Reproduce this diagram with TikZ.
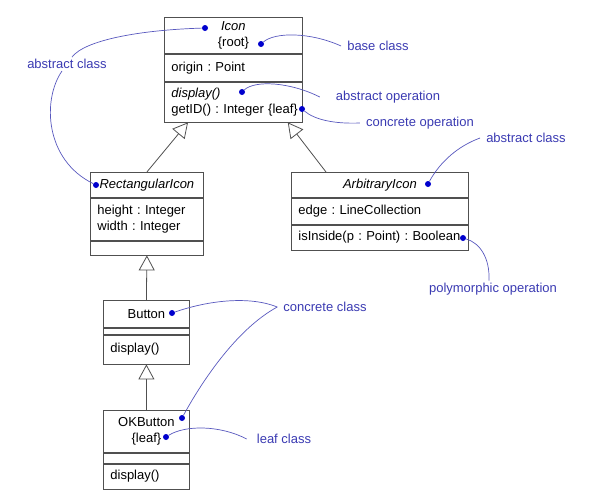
\documentclass[tikz,border=0pt]{standalone}
\usepackage{fontspec}
\setmainfont{Liberation Sans}
\usetikzlibrary{arrows.meta}
\definecolor{noteBlue}{RGB}{58,58,178}
\definecolor{dotBlue}{RGB}{0,0,205}
\definecolor{boxGray}{RGB}{80,80,80}
\newcommand{\NoteDot}[2]{\node[noteDot] (#1) at (#2) {};}

\begin{document}
\begin{tikzpicture}[x=1pt,y=-1pt,
  comp/.style={draw=boxGray,line width=0.8pt,anchor=north west,inner xsep=7pt,inner ysep=0pt,align=left,font=\fontsize{13}{15.5}\selectfont\frenchspacing},
  noteText/.style={text=noteBlue,font=\fontsize{13}{15}\selectfont,inner sep=2pt},
  noteLine/.style={draw=noteBlue!85,line width=0.7pt},
  noteDot/.style={circle,fill=dotBlue,inner sep=0pt,minimum size=6pt},
  inherit/.style={draw=boxGray,line width=0.8pt,-{Triangle[open,length=15pt,width=16pt]}}]
\useasboundingbox (0,0) rectangle (598,490);

% classes
\node[comp,text width=124pt,minimum height=36pt,align=center] (iconName) at (164,17) {\textit{Icon}\\\{root\}};
\node[comp,text width=124pt,minimum height=27pt] (iconAttr) at (iconName.south west) {origin : Point};
\node[comp,text width=124pt,minimum height=40pt] (iconOps) at (iconAttr.south west) {\textit{display()}\\\mbox{getID() : Integer \{leaf\}}};

\node[comp,text width=99pt,minimum height=25pt,align=center] (rectName) at (90,172) {\textit{RectangularIcon}};
\node[comp,text width=99pt,minimum height=42pt] (rectAttr) at (rectName.south west) {height : Integer\\width : Integer};
\node[comp,minimum width=113pt,minimum height=14pt] (rectOps) at (rectAttr.south west) {};

\node[comp,text width=163pt,minimum height=25pt,align=center] (arbName) at (291,172) {\textit{ArbitraryIcon}};
\node[comp,text width=163pt,minimum height=26pt] (arbAttr) at (arbName.south west) {edge : LineCollection};
\node[comp,text width=163pt,minimum height=25pt] (arbOps) at (arbAttr.south west) {\mbox{isInside(p : Point) : Boolean}};

\node[comp,text width=72pt,minimum height=27pt,align=center] (btnName) at (103,300) {Button};
\node[comp,minimum width=86pt,minimum height=6pt] (btnAttr) at (btnName.south west) {};
\node[comp,text width=72pt,minimum height=29pt] (btnOps) at (btnAttr.south west) {display()};

\node[comp,text width=72pt,minimum height=42pt,align=center] (okName) at (103,410) {OKButton\\\{leaf\}};
\node[comp,minimum width=86pt,minimum height=10pt] (okAttr) at (okName.south west) {};
\node[comp,text width=72pt,minimum height=25pt] (okOps) at (okAttr.south west) {display()};

% generalization
\draw[inherit] (rectName.north) -- ([xshift=24pt]iconOps.south west);
\draw[inherit] ([xshift=35pt]arbName.north west) -- ([xshift=-15pt]iconOps.south east);
\draw[inherit] (btnName.north) -- (rectOps.south);
\draw[inherit] (okName.north) -- (btnOps.south);

% notes
\NoteDot{dotIcon}{205,28}
\NoteDot{dotRoot}{261,44}
\NoteDot{dotDisplay}{242,92}
\NoteDot{dotLeafOp}{302,109}
\NoteDot{dotRect}{96,185}
\NoteDot{dotArb}{428,184}
\NoteDot{dotBool}{463,238}
\NoteDot{dotBtn}{172,313}
\NoteDot{dotOK}{182,418}
\NoteDot{dotLeafCls}{166,437}

\node[noteText] (absLeft) at (67,64) {abstract class};
\node[noteText] (baseCls) at (378,46) {base class};
\node[noteText] (absOp) at (388,97) {abstract operation};
\node[noteText] (concOp) at (420,123) {concrete operation};
\node[noteText] (absRight) at (526,138) {abstract class};
\node[noteText] (polyOp) at (493,289) {polymorphic operation};
\node[noteText] (concCls) at (325,307) {concrete class};
\node[noteText] (leafCls) at (284,439) {leaf class};

\draw[noteLine] (dotIcon) .. controls (140,30) and (85,40) .. ([xshift=5pt]absLeft.north);
\draw[noteLine] ([xshift=-5pt]absLeft.south) .. controls (42,100) and (45,160) .. (dotRect);
\draw[noteLine] (dotRoot) .. controls (275,32) and (310,32) .. ([xshift=-4pt]baseCls.west);
\draw[noteLine] (dotDisplay) .. controls (255,80) and (290,82) .. ([xshift=-14pt]absOp.west);
\draw[noteLine] (dotLeafOp) .. controls (315,120) and (335,124) .. ([xshift=-4pt]concOp.west);
\draw[noteLine] (dotArb) .. controls (440,162) and (458,146) .. ([xshift=-4pt]absRight.west);
\draw[noteLine] (dotBool) .. controls (480,243) and (490,258) .. ([xshift=-4pt]polyOp.north);
\draw[noteLine] (dotBtn) .. controls (210,300) and (250,296) .. ([xshift=-4pt]concCls.west);
\draw[noteLine] (dotOK) .. controls (200,385) and (235,330) .. ([xshift=-4pt]concCls.west);
\draw[noteLine] (dotLeafCls) .. controls (185,425) and (220,425) .. ([xshift=-8pt]leafCls.west);
\end{tikzpicture}
\end{document}
